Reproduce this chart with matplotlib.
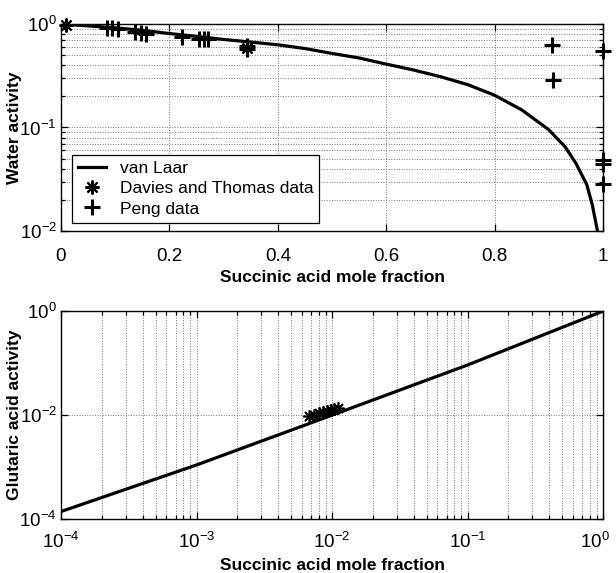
import matplotlib
matplotlib.use("Agg")
import matplotlib.pyplot as plt
import matplotlib.transforms as mtransforms
from matplotlib.ticker import FixedLocator, LogLocator, NullLocator, NullFormatter

plt.rcParams['font.family'] = ['Liberation Sans', 'DejaVu Sans']
plt.rcParams['mathtext.fontset'] = 'custom'
plt.rcParams['mathtext.rm'] = 'Liberation Sans'

# van Laar water activity vs succinic acid mole fraction
vl_x = [0.0, 0.05, 0.1, 0.15, 0.2, 0.25, 0.3, 0.35, 0.4, 0.45, 0.5, 0.55, 0.6,
        0.65, 0.7, 0.75, 0.8, 0.85, 0.9, 0.93, 0.95, 0.97, 0.98, 0.99]
vl_aw = [1.0, 0.96, 0.92, 0.87, 0.81, 0.76, 0.71, 0.67, 0.63, 0.58, 0.52, 0.47, 0.41,
         0.36, 0.31, 0.26, 0.205, 0.148, 0.095, 0.065, 0.045, 0.028, 0.018, 0.0098]

# Davies and Thomas measurements (water activity)
dt_x = [0.01, 0.343]
dt_aw = [0.98, 0.59]

# Peng measurements (water activity)
peng_x = [0.085, 0.095, 0.105, 0.137, 0.147, 0.156, 0.223, 0.255, 0.264, 0.272,
          0.343, 0.343, 0.905, 0.908, 1.0, 1.0, 1.0, 1.0]
peng_aw = [0.92, 0.91, 0.90, 0.83, 0.82, 0.81, 0.75, 0.72, 0.71, 0.71,
           0.61, 0.57, 0.63, 0.288, 0.55, 0.0485, 0.0444, 0.0284]

# van Laar glutaric acid activity vs succinic acid mole fraction (log-log)
gl_x = [1e-4, 1e-3, 1e-2, 1e-1, 1.0]
gl_a = [1.4e-4, 1.1e-3, 1.0e-2, 0.092, 1.0]

# Davies and Thomas glutaric acid activity
dtg_x = [0.0068, 0.0074, 0.0080, 0.0086, 0.0092, 0.0098, 0.0104, 0.0110]
dtg_a = [0.0095, 0.0101, 0.0108, 0.0114, 0.0121, 0.0127, 0.0134, 0.0140]

asterisk = (8, 2, 0)
tick_fs = 13.5
label_fs = 12.5
grid_kw = dict(ls=':', color='0.45', lw=0.7)

fig = plt.figure(figsize=(6.16, 5.73), dpi=100)
ax1 = fig.add_axes([0.099, 0.597, 0.880, 0.361])
ax2 = fig.add_axes([0.099, 0.094, 0.880, 0.363])

# --- top panel: water activity ---
ax1.plot(vl_x, vl_aw, color='black', lw=2.3, label='van Laar', zorder=3)
ax1.plot(dt_x, dt_aw, ls='none', marker=asterisk, ms=10, mew=1.5, color='black',
         label='Davies and Thomas data', zorder=4, clip_on=False)
ax1.plot(peng_x, peng_aw, ls='none', marker='+', ms=11, mew=2.2, color='black',
         label='Peng data', zorder=4, clip_on=False)
ax1.set_yscale('log')
ax1.set_xlim(0, 1)
ax1.set_ylim(1e-2, 1)
ax1.set_xticks([0, 0.2, 0.4, 0.6, 0.8, 1])
ax1.set_xticklabels(['0', '0.2', '0.4', '0.6', '0.8', '1'])
ax1.yaxis.set_major_locator(FixedLocator([1e-2, 1e-1, 1]))
ax1.yaxis.set_minor_locator(LogLocator(base=10, subs=range(2, 10)))
ax1.yaxis.set_minor_formatter(NullFormatter())
ax1.grid(True, which='major', axis='x', **grid_kw)
ax1.grid(True, which='both', axis='y', **grid_kw)
ax1.set_xlabel('Succinic acid mole fraction', fontsize=label_fs, fontweight='bold')
ax1.set_ylabel('Water activity', fontsize=label_fs, fontweight='bold')
ax1.xaxis.set_label_coords(0.5, -0.188)
ax1.yaxis.set_label_coords(-0.072, 0.5)

leg = ax1.legend(loc='lower left', bbox_to_anchor=(0.02, 0.04), fontsize=12.5,
                 frameon=True, fancybox=False, edgecolor='black', framealpha=1,
                 handlelength=1.6, handletextpad=0.8, borderpad=0.35, labelspacing=0.3,
                 borderaxespad=0)
leg.get_frame().set_linewidth(0.9)

# --- bottom panel: glutaric acid activity ---
ax2.plot(gl_x, gl_a, color='black', lw=2.3, zorder=3)
ax2.plot(dtg_x, dtg_a, ls='none', marker=asterisk, ms=9, mew=1.2, color='black', zorder=4)
ax2.set_xscale('log')
ax2.set_yscale('log')
ax2.set_xlim(1e-4, 1)
ax2.set_ylim(1e-4, 1)
ax2.xaxis.set_major_locator(FixedLocator([1e-4, 1e-3, 1e-2, 1e-1, 1]))
ax2.xaxis.set_minor_locator(LogLocator(base=10, subs=range(2, 10)))
ax2.xaxis.set_minor_formatter(NullFormatter())
ax2.yaxis.set_major_locator(FixedLocator([1e-4, 1e-2, 1]))
ax2.yaxis.set_minor_locator(NullLocator())
ax2.grid(True, which='both', axis='x', **grid_kw)
ax2.grid(True, which='major', axis='y', **grid_kw)
ax2.set_xlabel('Succinic acid mole fraction', fontsize=label_fs, fontweight='bold')
ax2.set_ylabel('Glutaric acid activity', fontsize=label_fs, fontweight='bold')
ax2.xaxis.set_label_coords(0.5, -0.188)
ax2.yaxis.set_label_coords(-0.072, 0.5)

for ax in (ax1, ax2):
    ax.set_axisbelow(True)
    for s in ax.spines.values():
        s.set_linewidth(1.0)
    ax.tick_params(which='both', direction='in', top=True, right=True, width=0.9)
    ax.tick_params(which='major', length=5, labelsize=tick_fs)
    ax.tick_params(which='minor', length=3)
    ax.tick_params(axis='y', pad=3)
ax1.tick_params(axis='x', pad=12)
ax2.tick_params(axis='x', pad=9)

# keep the 10^0 label at the right edge inside the figure
last = ax2.xaxis.get_major_ticks()[-1].label1
last.set_transform(last.get_transform() +
                   mtransforms.ScaledTranslation(-6 / 72, 0, fig.dpi_scale_trans))

fig.savefig('out.png', dpi=100)
